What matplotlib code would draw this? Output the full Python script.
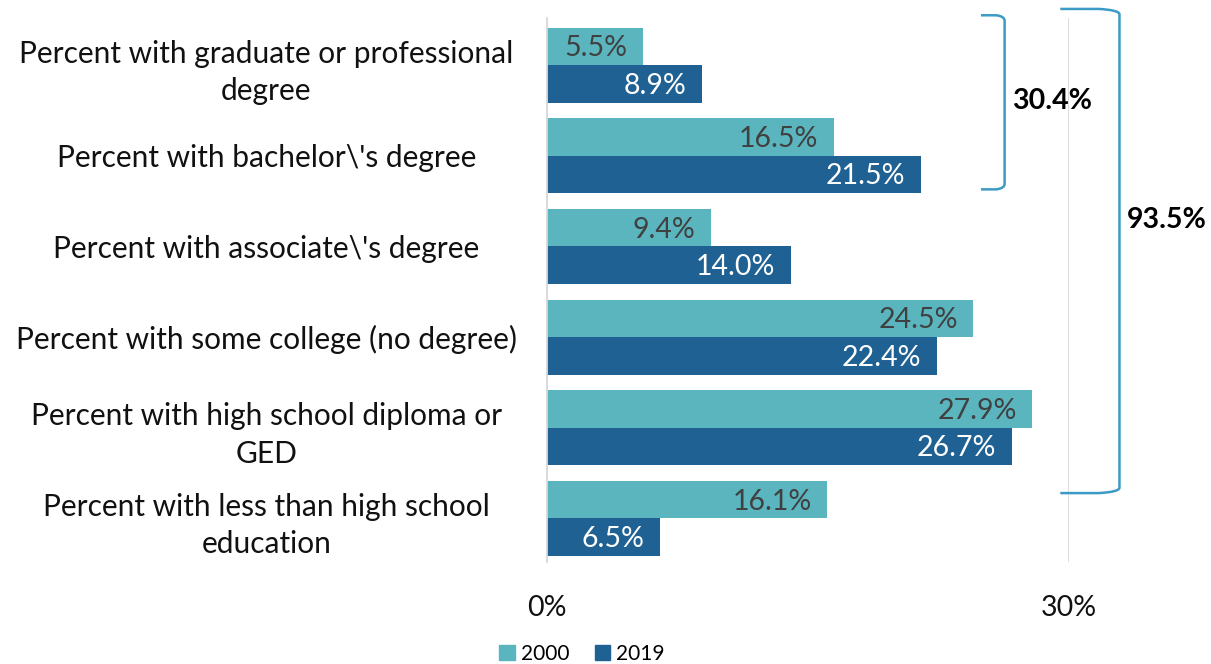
import matplotlib.pyplot as plt
from matplotlib.path import Path
from matplotlib.patches import PathPatch, Patch

plt.rcParams['font.family'] = ['Lato', 'DejaVu Sans']

categories = [
    "Percent with graduate or professional\ndegree",
    "Percent with bachelor\\'s degree",
    "Percent with associate\\'s degree",
    "Percent with some college (no degree)",
    "Percent with high school diploma or\nGED",
    "Percent with less than high school\neducation",
]
pct_2000 = [5.5, 16.5, 9.4, 24.5, 27.9, 16.1]
pct_2019 = [8.9, 21.5, 14.0, 22.4, 26.7, 6.5]
x_ticks = [0, 30]
x_tick_labels = ["0%", "30%"]
bracket_labels = ["30.4%", "93.5%"]

c2000 = "#5AB5BF"
c2019 = "#1F6193"
c_brace = "#3C9AC6"


def brace(ax, x0, x1, y0, y1, r=0.06):
    # open bracket: top and bottom arms running right, joined by a vertical edge
    rx = (x1 - x0) * 0.35
    verts = [(x0, y0), (x1 - rx, y0), (x1, y0 + r * 0.2), (x1, y0 + r),
             (x1, y1 - r), (x1, y1 - r * 0.2), (x1 - rx, y1), (x0, y1)]
    codes = [Path.MOVETO, Path.LINETO, Path.CURVE3, Path.CURVE3,
             Path.LINETO, Path.CURVE3, Path.CURVE3, Path.LINETO]
    ax.add_patch(PathPatch(Path(verts, codes), fill=False, edgecolor=c_brace,
                           lw=1.8, clip_on=False, capstyle='butt'))


fig = plt.figure(figsize=(12.11, 6.64), dpi=100)
ax = fig.add_axes([547 / 1211, 1 - 562 / 664, (1069 - 547) / 1211, (562 - 18) / 664])

y = list(range(len(categories)))
h = 0.414
ax.barh([i - h / 2 for i in y], pct_2000, height=h, color=c2000, label="2000")
ax.barh([i + h / 2 for i in y], pct_2019, height=h, color=c2019, label="2019")

for i, (a, b) in enumerate(zip(pct_2000, pct_2019)):
    ax.text(a - 0.9, i - h / 2 + 0.02, f"{a:.1f}%", ha='right', va='center',
            fontsize=20.5, color="#404040")
    ax.text(b - 0.9, i + h / 2 + 0.02, f"{b:.1f}%", ha='right', va='center',
            fontsize=20.5, color="white")

ax.set_xlim(0, 30)
ax.set_ylim(5.48, -0.52)
ax.set_yticks(y)
ax.set_yticklabels(categories, fontsize=21.5, color="#111111", ha='center',
                   linespacing=1.4)
ax.tick_params(axis='y', length=0, pad=202)
ax.set_xticks(x_ticks)
ax.set_xticklabels(x_tick_labels, fontsize=20.5, color="#111111")
ax.tick_params(axis='x', length=0, pad=24)
ax.xaxis.grid(True, color="#D9D9D9", lw=1.3)
ax.set_axisbelow(True)
for s in ['top', 'right', 'bottom']:
    ax.spines[s].set_visible(False)
ax.spines['left'].set_color("#D9D9D9")
ax.spines['left'].set_linewidth(1.3)

brace(ax, 24.94, 26.3, -0.55, 1.37)
brace(ax, 29.5, 32.9, -0.62, 4.72)
ax.text(29.0, 0.39, bracket_labels[0], ha='center', va='center',
        fontsize=20.5, fontweight='bold', color="black", clip_on=False)
ax.text(35.6, 1.71, bracket_labels[1], ha='center', va='center',
        fontsize=20.5, fontweight='bold', color="black", clip_on=False)

handles = [Patch(color=c2000), Patch(color=c2019)]
fig.legend(handles, ["2000", "2019"], loc='center', bbox_to_anchor=(582 / 1211, 1 - 654 / 664),
           ncol=2, frameon=False, fontsize=15, handlelength=0.75, handleheight=0.75,
           handletextpad=0.3, columnspacing=1.2)

fig.savefig("out.png", dpi=100)
